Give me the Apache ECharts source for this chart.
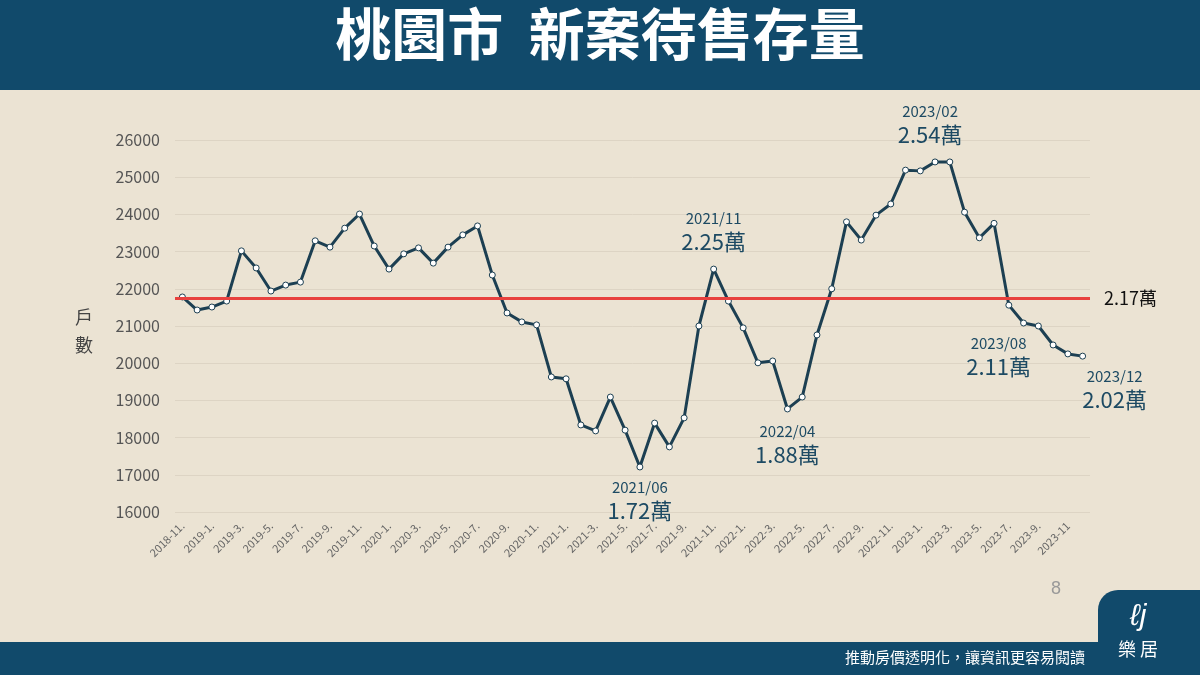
<!DOCTYPE html>
<html><head><meta charset="utf-8">
<script src="https://cdn.jsdelivr.net/npm/echarts@6/dist/echarts.min.js"></script>
<style>html,body{margin:0;padding:0;background:#ebe3d3;}#c{width:1200px;height:675px;}</style>
</head><body><div id="c"></div>
<script>
const months = [];
(function(){let y=2018,m=11;for(let i=0;i<62;i++){months.push(y+'-'+m);m++;if(m>12){m=1;y++;}}})();
const values = [21780,21430,21510,21670,23020,22560,21940,22100,22180,23290,23120,23630,24010,23150,22530,22940,23100,22690,23120,23450,23690,22370,21350,21110,21030,19630,19580,18340,18180,19090,18200,17210,18390,17750,18530,21000,22530,21670,20950,20010,20060,18770,19090,20760,22000,23800,23310,23980,24280,25190,25170,25410,25410,24060,23370,23760,21560,21080,21000,20490,20250,20190];
const avgLine = 21750;
const avgLabel = '2.17萬';
const notes = [
  {month:'2021-6', date:'2021/06', text:'1.72萬', pos:'bottom', off:[0,2]},
  {month:'2021-11', date:'2021/11', text:'2.25萬', pos:'top', off:[0,-6]},
  {month:'2022-4', date:'2022/04', text:'1.88萬', pos:'bottom', off:[0,4]},
  {month:'2023-2', date:'2023/02', text:'2.54萬', pos:'top', off:[-5,-6]},
  {month:'2023-8', date:'2023/08', text:'2.11萬', pos:'bottom', off:[-25,2]},
  {month:'2023-12', date:'2023/12', text:'2.02萬', pos:'bottom', off:[32,2]}
];
const data = values.map((v,i)=>{
  const n = notes.find(o=>o.month===months[i]);
  if(!n) return v;
  return {value:v,label:{show:true,position:n.pos,offset:n.off,
    formatter:'{a|'+n.date+'}\n{b|'+n.text+'}',
    rich:{a:{fontSize:15,color:'#1d4a63',align:'center',lineHeight:20},b:{fontSize:22,color:'#1d4a63',align:'center',lineHeight:26}}}};
});
const chart = echarts.init(document.getElementById('c'));
chart.setOption({
  backgroundColor:'#ebe3d3',
  textStyle:{fontFamily:'Noto Sans CJK TC'},
  graphic:[
    {type:'rect',shape:{x:0,y:0,width:1200,height:90},style:{fill:'#114a6b'}},
    {type:'text',left:'center',top:6,style:{text:'桃園市  新案待售存量',fill:'#fff',fontSize:56,fontWeight:'bold',fontFamily:'Noto Sans CJK TC'}},
    {type:'rect',shape:{x:0,y:642,width:1200,height:33},style:{fill:'#114a6b'}},
    {type:'text',right:115,top:650,style:{text:'推動房價透明化，讓資訊更容易閱讀',fill:'#fff',fontSize:15,fontFamily:'Noto Sans CJK TC'}},
    {type:'rect',shape:{x:1098,y:590,width:102,height:85,r:[20,0,0,0]},style:{fill:'#114a6b'}},
    {type:'text',left:1130,top:602,style:{text:'ℓj',fill:'#fff',fontSize:30,fontStyle:'italic'}},
    {type:'text',left:1118,top:640,style:{text:'樂 居',fill:'#fff',fontSize:18,fontFamily:'Noto Sans CJK TC'}},
    {type:'text',left:1051,top:580,style:{text:'8',fill:'#999',fontSize:18}},
    {type:'text',left:75,top:303,style:{text:'戶\n數',fill:'#444',fontSize:18,lineHeight:28,fontFamily:'Noto Sans CJK TC'}}
  ],
  grid:{left:175,right:110,top:140,bottom:163},
  xAxis:{type:'category',data:months,boundaryGap:['1.5%','1.5%'],
    axisLine:{show:false},axisTick:{show:false},
    axisLabel:{interval:1,rotate:45,color:'#666',fontSize:11,margin:12,
      formatter:(v,i)=> i===60? v : v+'.'}},
  yAxis:{type:'value',min:16000,max:26000,interval:1000,
    axisLabel:{color:'#555',fontSize:16,margin:15,formatter:v=>String(v)},
    axisLine:{show:false},axisTick:{show:false},
    splitLine:{lineStyle:{color:'#ddd4c4'}}},
  series:[{type:'line',data:data,symbol:'circle',symbolSize:6,
    lineStyle:{color:'#1c3f52',width:3},
    itemStyle:{color:'#fff',borderColor:'#1c3f52',borderWidth:1},
    label:{show:false},
    markLine:{silent:true,symbol:'none',data:[{yAxis:avgLine}],
      lineStyle:{color:'#e8413e',width:3,type:'solid'},
      label:{position:'end',formatter:avgLabel,color:'#111',fontSize:18,distance:14}}}]
});
</script></body></html>
